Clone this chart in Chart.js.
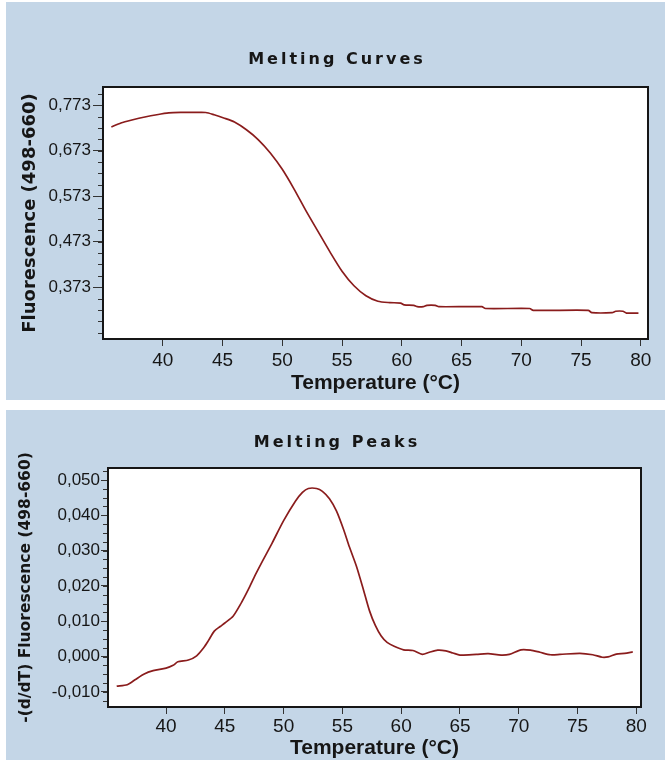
<!DOCTYPE html>
<html>
<head>
<meta charset="utf-8">
<script src="https://cdn.jsdelivr.net/npm/chart.js@4"></script>
<style>
  body { margin: 0; background: #fff; }
  .panel { position: absolute; left: 6px; width: 659px; background: #c4d6e7; }
  #topPanel { top: 2px; height: 398px; }
  #bottomPanel { top: 410px; height: 350px; }
</style>
</head>
<body>
<div class="panel" id="topPanel"><canvas id="curvesChart"></canvas></div>
<div class="panel" id="bottomPanel"><canvas id="peaksChart"></canvas></div>
<script>
// ================= DATA =================
const tempTicks = [40, 45, 50, 55, 60, 65, 70, 75, 80];

// melting curve, fluorescence (498-660)
const curveTemp = [35.7, 36.5, 37.5, 38.5, 39.5, 40.5, 41.5, 42.5, 43.6, 44.3, 45.1, 46.0,
  47.0, 48.0, 49.0, 50.0, 51.0, 52.0, 53.0, 54.0, 55.0, 56.0, 57.0, 58.0, 59.0, 59.9,
  60.2, 61.0, 61.3, 61.8, 62.1, 62.8, 63.1, 66.7, 67.0, 70.7, 71.0, 75.6, 75.9, 77.6,
  77.9, 78.5, 78.8, 79.8];
const curveFluor = [0.725, 0.734, 0.741, 0.747, 0.752, 0.756, 0.757, 0.757, 0.757, 0.752,
  0.745, 0.736, 0.719, 0.697, 0.668, 0.632, 0.588, 0.540, 0.495, 0.450, 0.408, 0.376,
  0.354, 0.342, 0.339, 0.338, 0.334, 0.333, 0.330, 0.330, 0.333, 0.333, 0.330, 0.330,
  0.326, 0.326, 0.322, 0.322, 0.317, 0.317, 0.320, 0.320, 0.316, 0.316];
const curveTicks = [0.373, 0.473, 0.573, 0.673, 0.773];

// melting peak, -(d/dT) fluorescence
const peakTemp = [35.8, 36.7, 37.4, 38.1, 38.9, 40.0, 40.6, 41.0, 41.9, 42.6, 43.2, 43.6,
  44.1, 44.6, 45.0, 45.7, 46.4, 47.0, 47.5, 48.2, 49.0, 50.0, 51.0, 51.6, 52.1, 52.8,
  53.3, 53.9, 54.5, 55.1, 55.6, 56.2, 56.8, 57.3, 57.8, 58.3, 58.8, 59.4, 60.2, 61.0,
  61.8, 62.4, 63.1, 63.8, 64.4, 65.0, 66.4, 67.4, 68.5, 69.2, 70.2, 71.0, 71.8, 72.7,
  73.5, 75.2, 76.3, 77.1, 77.6, 78.3, 79.0, 79.7];
const peakDeriv = [-0.0084, -0.0080, -0.0065, -0.0050, -0.0040, -0.0033, -0.0025, -0.0015,
  -0.0010, 0.0002, 0.0025, 0.0045, 0.0072, 0.0085, 0.0095, 0.0114, 0.0152, 0.0190,
  0.0225, 0.0270, 0.0320, 0.0385, 0.0440, 0.0465, 0.0476, 0.0476, 0.0468, 0.0447,
  0.0412, 0.0360, 0.0310, 0.0255, 0.0188, 0.0130, 0.0088, 0.0058, 0.0040, 0.0029,
  0.0019, 0.0017, 0.0006, 0.0012, 0.0018, 0.0016, 0.0010, 0.0004, 0.0006, 0.0008,
  0.0004, 0.0006, 0.0019, 0.0018, 0.0012, 0.0005, 0.0006, 0.0009, 0.0005, -0.0002,
  -0.0001, 0.0007, 0.0009, 0.0013];
const peakTicks = [-0.010, 0.000, 0.010, 0.020, 0.030, 0.040, 0.050];

// ================= STYLE =================
const labelFont = "'Liberation Sans', Arial, sans-serif";
const ink = '#161616';
const lineColor = '#8a1c1c';

// white plot area, black frame, short minor ticks on the y axis
const plotFrame = {
  id: 'plotFrame',
  beforeDraw(chart) {
    const { ctx, chartArea: a } = chart;
    ctx.save();
    ctx.fillStyle = '#fff';
    ctx.fillRect(a.left, a.top, a.right - a.left, a.bottom - a.top);
    ctx.restore();
  },
  afterDraw(chart, args, opts) {
    const { ctx, chartArea: a, scales: { y } } = chart;
    const base = y.ticks[0].value;
    const step = opts.minorStep;
    ctx.save();
    ctx.strokeStyle = '#333';
    ctx.lineWidth = 1;
    ctx.beginPath();
    const k0 = Math.ceil((y.min - base) / step);
    const k1 = Math.floor((y.max - base) / step);
    for (let k = k0; k <= k1; k++) {
      const py = Math.round(y.getPixelForValue(base + k * step)) + 0.5;
      ctx.moveTo(a.left - 5, py);
      ctx.lineTo(a.left, py);
    }
    ctx.stroke();
    ctx.strokeStyle = ink;
    ctx.lineWidth = 2;
    ctx.strokeRect(a.left, a.top, a.right - a.left, a.bottom - a.top);
    ctx.restore();
  }
};

// spaced-out bold heading above the plot
const heading = {
  id: 'heading',
  afterDraw(chart, args, opts) {
    const ctx = chart.ctx;
    ctx.save();
    ctx.font = "bold 16px 'DejaVu Sans'";
    ctx.letterSpacing = '3px';
    ctx.fillStyle = ink;
    ctx.textAlign = 'center';
    ctx.textBaseline = 'middle';
    ctx.fillText(opts.text, chart.width / 2 + 1.5, opts.y);
    ctx.restore();
  }
};

function makeChart(id, cfg) {
  return new Chart(document.getElementById(id), {
    type: 'line',
    data: {
      datasets: [{
        data: cfg.xs.map((x, i) => ({ x: x, y: cfg.ys[i] })),
        borderColor: lineColor,
        borderWidth: 1.7,
        pointRadius: 0,
        tension: 0.25,
        fill: false
      }]
    },
    options: {
      responsive: true,
      maintainAspectRatio: false,
      animation: false,
      layout: { padding: { top: cfg.padTop, left: 0, bottom: 0, right: cfg.padRight } },
      plugins: {
        legend: { display: false },
        tooltip: { enabled: false },
        heading: { text: cfg.title, y: cfg.titleY },
        plotFrame: { minorStep: cfg.minorStep }
      },
      scales: {
        x: {
          type: 'linear',
          min: cfg.xMin,
          max: cfg.xMax,
          afterBuildTicks: s => { s.ticks = tempTicks.map(v => ({ value: v })); },
          afterFit: s => { s.height = cfg.xHeight; },
          grid: { drawOnChartArea: false, tickLength: 7, color: '#333' },
          border: { display: false },
          ticks: {
            color: ink,
            padding: cfg.xTickPad,
            maxRotation: 0,
            font: { family: labelFont, size: 19 }
          },
          title: {
            display: true,
            text: 'Temperature (°C)',
            color: ink,
            font: { family: labelFont, size: 21, weight: 'bold', lineHeight: 1.1 },
            padding: { top: 0, bottom: cfg.xTitlePad }
          }
        },
        y: {
          min: cfg.yMin,
          max: cfg.yMax,
          afterBuildTicks: s => { s.ticks = cfg.yTicks.map(v => ({ value: v })); },
          afterFit: s => { s.width = cfg.yWidth; },
          grid: { drawOnChartArea: false, tickLength: cfg.yTickLen, color: '#333' },
          border: { display: false },
          ticks: {
            color: ink,
            padding: cfg.yTickPad,
            font: { family: labelFont, size: 17 },
            callback: v => v.toFixed(3).replace('.', ',')
          },
          title: {
            display: true,
            text: cfg.yTitle,
            color: ink,
            font: { family: 'DejaVu Sans', size: cfg.yTitleSize, weight: 'bold' },
            padding: { top: cfg.yTitlePad, bottom: 0 }
          }
        }
      }
    },
    plugins: [plotFrame, heading]
  });
}

window.onload = () => {
  makeChart('curvesChart', {
    xs: curveTemp, ys: curveFluor, yTicks: curveTicks,
    title: 'Melting Curves', titleY: 58, padTop: 85,
    yTitle: 'Fluorescence (498-660)', yTitleSize: 18, yTitlePad: 14,
    xMin: 35.0, xMax: 80.6, yMin: 0.259, yMax: 0.813,
    yWidth: 97, xHeight: 61, padRight: 17,
    yTickLen: 10, yTickPad: 2, xTickPad: 3, xTitlePad: 5,
    minorStep: 0.025
  });

  makeChart('peaksChart', {
    xs: peakTemp, ys: peakDeriv, yTicks: peakTicks,
    title: 'Melting Peaks', titleY: 33, padTop: 58,
    yTitle: '-(d/dT) Fluorescence (498-660)', yTitleSize: 15.5, yTitlePad: 11,
    xMin: 35.06, xMax: 80.4, yMin: -0.0143, yMax: 0.0534,
    yWidth: 102, xHeight: 53, padRight: 24,
    yTickLen: 7, yTickPad: 1, xTickPad: 1, xTitlePad: 0,
    minorStep: 0.0025
  });
};
</script>
</body>
</html>
